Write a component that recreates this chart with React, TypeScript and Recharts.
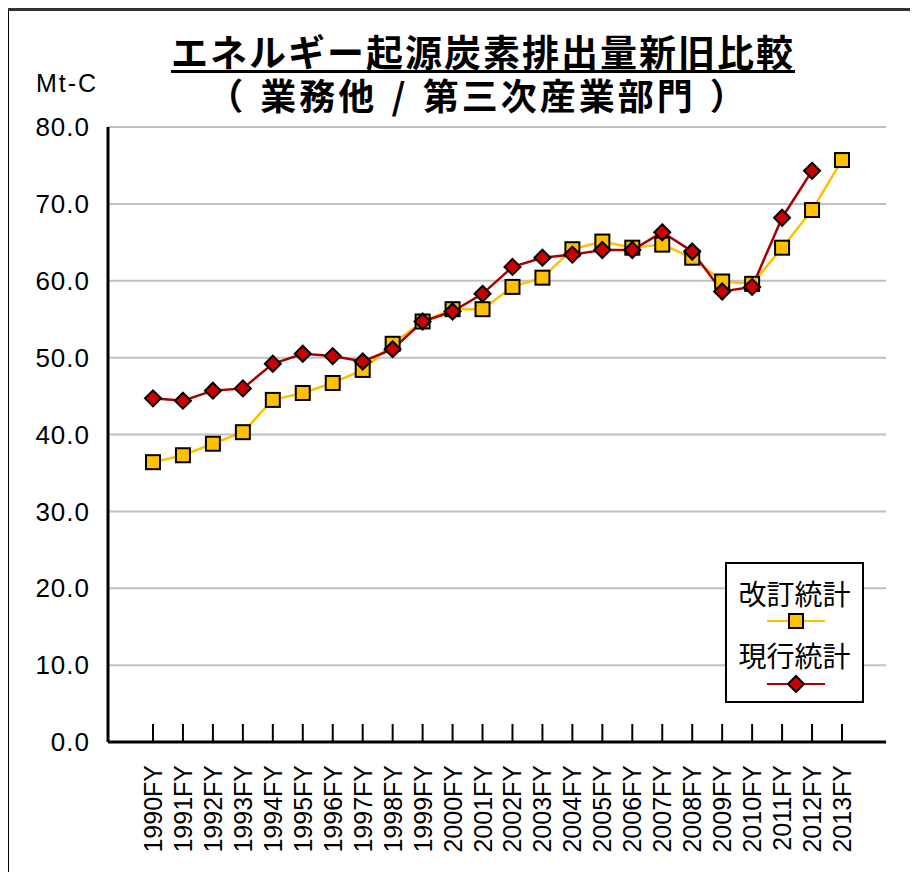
import React from 'react';
import {
  LineChart,
  Line,
  XAxis,
  YAxis,
  CartesianGrid,
} from 'recharts';

// fiscal years on the category axis
const years = [
  '1990FY', '1991FY', '1992FY', '1993FY', '1994FY', '1995FY', '1996FY', '1997FY',
  '1998FY', '1999FY', '2000FY', '2001FY', '2002FY', '2003FY', '2004FY', '2005FY',
  '2006FY', '2007FY', '2008FY', '2009FY', '2010FY', '2011FY', '2012FY', '2013FY',
];

// 改訂統計 (revised statistics), Mt-C
const revised = [
  36.4, 37.3, 38.8, 40.3, 44.5, 45.4, 46.7, 48.4, 51.8, 54.7, 56.3, 56.3,
  59.2, 60.4, 64.1, 65.1, 64.3, 64.7, 63.0, 59.9, 59.6, 64.3, 69.2, 75.7,
];

// 現行統計 (current statistics), Mt-C — no 2013 value
const current = [
  44.7, 44.4, 45.7, 46.0, 49.2, 50.5, 50.2, 49.5, 51.1, 54.7, 56.0, 58.3,
  61.8, 63.0, 63.4, 64.0, 64.0, 66.3, 63.8, 58.6, 59.2, 68.2, 74.3, null,
];

const yTicks = [0, 10, 20, 30, 40, 50, 60, 70, 80];

const legendItems = [
  { key: 'revised', label: '改訂統計' },
  { key: 'current', label: '現行統計' },
];

const data = years.map((y, i) => ({ year: y, revised: revised[i], current: current[i] }));

const LATIN = '"Liberation Sans", Arial, sans-serif';
const CJK = '"Noto Sans CJK JP", sans-serif';

const ORANGE = '#FFC000';
const RED_LINE = '#A80000';
const RED_FILL = '#CC0000';

const SquareDot = (props: any) => {
  const { cx, cy } = props;
  if (cx == null || cy == null) return null;
  return <rect x={cx - 7} y={cy - 7} width={14} height={14} fill={ORANGE} stroke="#000" strokeWidth={2} />;
};

const DiamondDot = (props: any) => {
  const { cx, cy, value } = props;
  if (cx == null || cy == null || value == null) return null;
  const r = 8;
  return (
    <polygon
      points={`${cx},${cy - r} ${cx + r},${cy} ${cx},${cy + r} ${cx - r},${cy}`}
      fill={RED_FILL}
      stroke="#000"
      strokeWidth={2}
    />
  );
};

const YearTick = (props: any) => {
  const { x, y, payload } = props;
  return (
    <g>
      <line x1={x} y1={y - 18} x2={x} y2={y} stroke="#000" strokeWidth={2} />
      <text
        x={x}
        y={y + 23}
        transform={`rotate(-90, ${x}, ${y + 23})`}
        textAnchor="end"
        dominantBaseline="central"
        fontFamily={LATIN}
        fontSize={25}
        fill="#000"
      >
        {payload.value}
      </text>
    </g>
  );
};

function LegendBox() {
  return (
    <div
      style={{
        position: 'absolute',
        left: 717,
        top: 554,
        width: 135,
        height: 137,
        border: '2px solid #000',
        background: '#fff',
        fontFamily: CJK,
      }}
    >
      {legendItems.map((item, i) => (
        <div key={item.key} style={{ position: 'absolute', left: 0, top: i * 62, width: 135 }}>
          <div style={{ textAlign: 'center', fontSize: 28, lineHeight: '32px', marginTop: 13, color: '#000' }}>
            {item.label}
          </div>
          <svg width={135} height={22} style={{ display: 'block' }}>
            {item.key === 'revised' ? (
              <g>
                <line x1={40} x2={98} y1={12} y2={12} stroke={ORANGE} strokeWidth={2} />
                <rect x={62} y={5} width={14} height={14} fill={ORANGE} stroke="#000" strokeWidth={2} />
              </g>
            ) : (
              <g>
                <line x1={40} x2={98} y1={13} y2={13} stroke={RED_LINE} strokeWidth={2} />
                <polygon points="69,5 77,13 69,21 61,13" fill={RED_FILL} stroke="#000" strokeWidth={2} />
              </g>
            )}
          </svg>
        </div>
      ))}
    </div>
  );
}

export default function App() {
  return (
    <div style={{ position: 'relative', width: 910, height: 864, overflow: 'hidden', background: '#fff' }}>
      {/* outer frame */}
      <div
        style={{
          position: 'absolute',
          left: -2,
          top: 0,
          width: 1000,
          height: 1000,
          borderLeft: '3px solid #000',
          borderTop: '3px solid #333',
        }}
      />
      <div
        style={{
          position: 'absolute',
          left: 475,
          top: 25,
          transform: 'translateX(-50%)',
          whiteSpace: 'nowrap',
          fontFamily: CJK,
          fontWeight: 700,
          fontSize: 37,
          lineHeight: '37px',
          letterSpacing: 2,
          textDecoration: 'underline',
          textDecorationThickness: 3,
          textUnderlineOffset: 3,
        }}
      >
        エネルギー起源炭素排出量新旧比較
      </div>
      <div
        style={{
          position: 'absolute',
          left: 470,
          top: 69,
          transform: 'translateX(-50%)',
          whiteSpace: 'pre',
          fontFamily: CJK,
          fontWeight: 700,
          fontSize: 36,
          lineHeight: '34px',
          letterSpacing: 3,
          wordSpacing: 3,
        }}
      >
        （ 業務他 / 第三次産業部門 ）
      </div>
      <div
        style={{
          position: 'absolute',
          left: 28,
          top: 60,
          fontFamily: LATIN,
          fontSize: 25,
          lineHeight: '30px',
          letterSpacing: 2,
        }}
      >
        Mt-C
      </div>
      <LineChart
        width={910}
        height={864}
        data={data}
        margin={{ top: 119, right: 32, bottom: 0, left: 0 }}
      >
        <CartesianGrid vertical={false} stroke="#c0c0c0" strokeWidth={2} />
        <XAxis
          dataKey="year"
          height={130}
          padding={{ left: 45, right: 44 }}
          axisLine={{ stroke: '#000', strokeWidth: 3 }}
          tickLine={false}
          tickSize={0}
          tickMargin={0}
          interval={0}
          tick={<YearTick />}
        />
        <XAxis
          xAxisId="top"
          dataKey="year"
          orientation="top"
          height={0}
          padding={{ left: 45, right: 44 }}
          axisLine={{ stroke: '#000', strokeWidth: 3 }}
          tick={false}
          tickLine={false}
        />
        <YAxis
          width={100}
          domain={[0, 80]}
          ticks={yTicks}
          interval={0}
          axisLine={{ stroke: '#000', strokeWidth: 3 }}
          tickLine={false}
          tickSize={0}
          tickMargin={18}
          tickFormatter={(v: number) => v.toFixed(1)}
          tick={{ fill: '#000', fontSize: 26, fontFamily: LATIN, letterSpacing: 1 }}
        />
        <YAxis
          yAxisId="right"
          orientation="right"
          width={0}
          domain={[0, 80]}
          axisLine={{ stroke: '#000', strokeWidth: 3 }}
          tick={false}
          tickLine={false}
        />
        <Line
          type="linear"
          dataKey="revised"
          name="改訂統計"
          stroke={ORANGE}
          strokeWidth={2.5}
          dot={<SquareDot />}
          isAnimationActive={false}
        />
        <Line
          type="linear"
          dataKey="current"
          name="現行統計"
          stroke={RED_LINE}
          strokeWidth={2.5}
          dot={<DiamondDot />}
          isAnimationActive={false}
        />
      </LineChart>
      <LegendBox />
    </div>
  );
}
